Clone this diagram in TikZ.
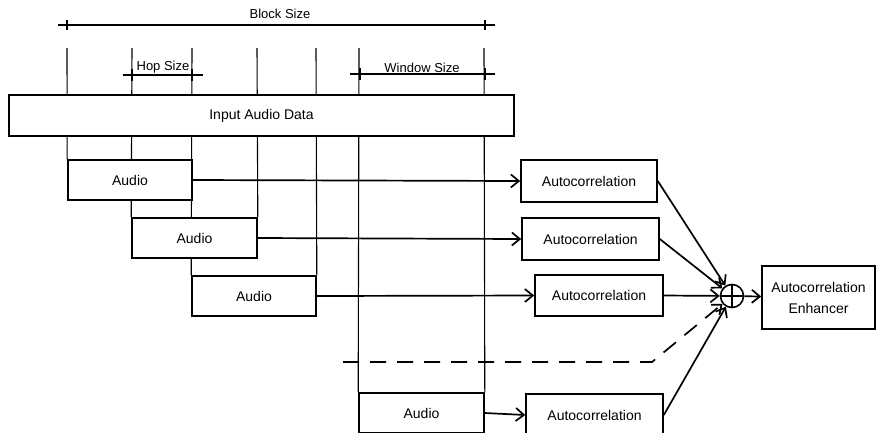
\documentclass[tikz,border=0pt]{standalone}
\usepackage{fontspec}
\setmainfont{Liberation Sans}
\usetikzlibrary{arrows.meta,backgrounds}
\begin{document}
\begin{tikzpicture}[x=1pt,y=-1pt,
  box/.style={draw, line width=1.6pt, fill=white, inner sep=0pt, font=\fontsize{14}{16}\selectfont},
  thinline/.style={line width=1.1pt},
  dimline/.style={line width=1.7pt},
  arr/.style={line width=1.7pt, -{Straight Barb[length=8pt,width=13pt]}},
  lbl/.style={font=\fontsize{13}{15}\selectfont, inner sep=0pt}]
\useasboundingbox (0,0) rectangle (888,432);
\clip (0,0) rectangle (888,432);

% dimension lines
\draw[dimline] (58,25) -- (495,25);
\draw[dimline] (67,20) -- (67,30) (485,20) -- (485,30);
\node[lbl] (blk) at (280,14) {Block Size};
\draw[dimline] (123,75) -- (203,75);
\draw[dimline] (132,69) -- (132,81) (192,69) -- (192,81);
\node[lbl] (hop) at (163,67) {Hop Size};
\draw[dimline] (350,74) -- (495,74);
\draw[dimline] (360,68) -- (360,80) (485,68) -- (485,80);
\node[lbl] (win) at (422,68) {Window Size};

% boxes
\node[box, minimum width=505pt, minimum height=41pt] (in) at (261.5,115.5) {Input Audio Data};
\node[box, minimum width=124pt, minimum height=40pt] (a1) at (130,180) {Audio};
\node[box, minimum width=125pt, minimum height=40pt] (a2) at (194.5,238) {Audio};
\node[box, minimum width=124pt, minimum height=40pt] (a3) at (254,296) {Audio};
\node[box, minimum width=125pt, minimum height=40pt] (a4) at (421.5,413) {Audio};

\node[box, minimum width=136pt, minimum height=42pt] (ac1) at (589,181) {Autocorrelation};
\node[box, minimum width=137pt, minimum height=42pt] (ac2) at (590.5,239) {Autocorrelation};
\node[box, minimum width=128pt, minimum height=41pt] (ac3) at (599,295.5) {Autocorrelation};
\node[box, minimum width=137pt, minimum height=42pt] (ac4) at (594.5,415) {Autocorrelation};

\node[draw, circle, line width=1.6pt, minimum size=23pt, inner sep=0pt] (sum) at (732,296) {};
\draw[line width=1.3pt] (sum.north) -- (sum.south) (sum.west) -- (sum.east);

\node[box, minimum width=113pt, minimum height=63pt, align=center, font=\fontsize{14}{21}\selectfont] (enh) at (818.5,297.5) {Autocorrelation\\Enhancer};

% vertical guide lines
\begin{scope}[on background layer]
\draw[thinline] (67,48) -- (a1.north west);
\draw[thinline] (132,48) -- (a2.north west);
\draw[thinline] (192,48) -- (a3.north west);
\draw[thinline] (257,48) -- (a2.north east);
\draw[thinline] (316,48) -- (a3.north east);
\draw[thinline] (359,48) -- (a4.north west);
\draw[thinline] (484,48) -- (a4.north east);
\end{scope}

% arrows
\draw[arr] (a1.east) -- (ac1.west);
\draw[arr] (a2.east) -- (ac2.west);
\draw[arr] (a3.east) -- (ac3.west);
\draw[arr] (a4.east) -- (ac4.west);

\draw[arr] (ac1.east) -- (sum);
\draw[arr] (ac2.east) -- (sum);
\draw[arr] (ac3.east) -- (sum);
\draw[arr] (ac4.east) -- (sum);
\coordinate (d0) at (343,362);
\coordinate (d1) at (652,362);
\draw[arr, dash pattern=on 16pt off 11pt] (d0) -- (d1) -- (sum);
\draw[arr] (sum) -- (enh);
\end{tikzpicture}
\end{document}
